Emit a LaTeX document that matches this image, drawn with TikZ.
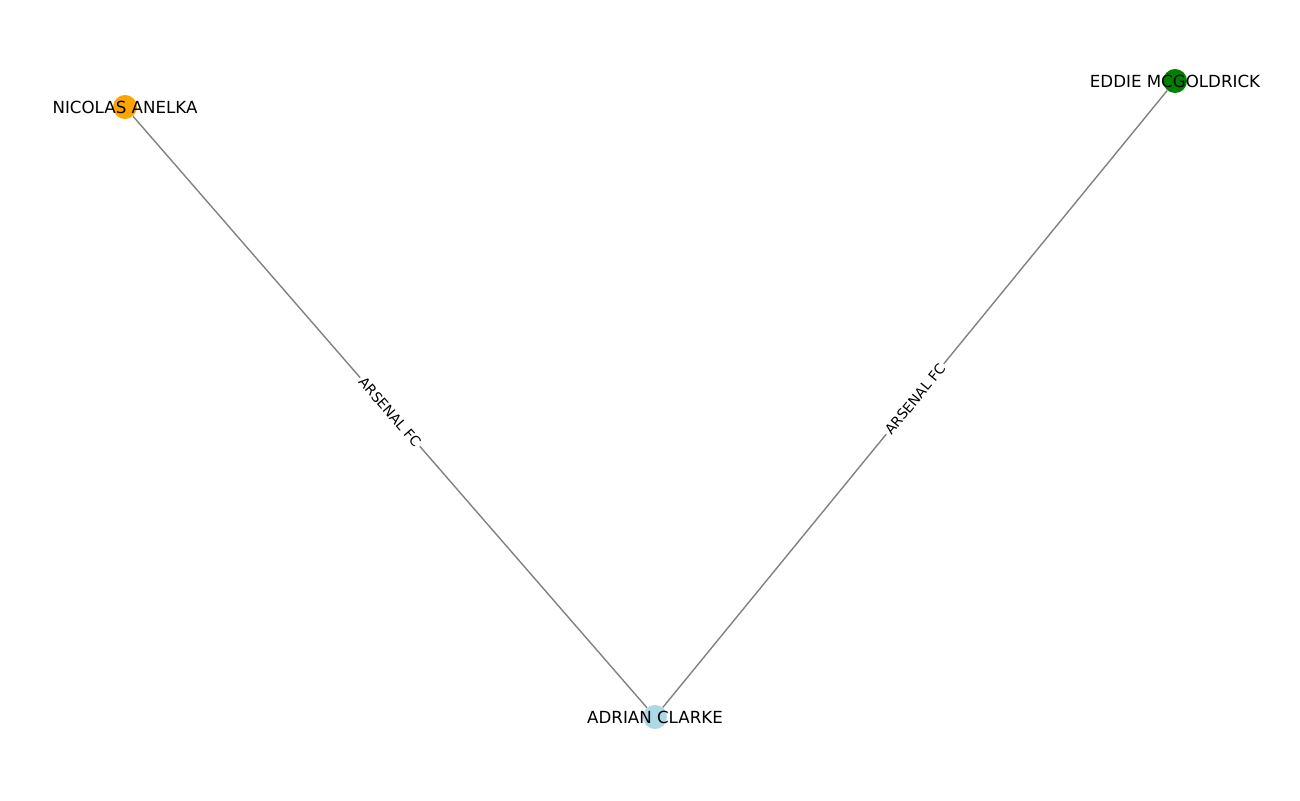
\documentclass[tikz,border=0pt]{standalone}
\usepackage{fontspec}
\setmainfont{DejaVu Sans}
\usepackage{tikz}
\usetikzlibrary{calc}
\usetikzlibrary{positioning}

\definecolor{nxorange}{HTML}{FFA500}
\definecolor{nxgreen}{HTML}{008000}
\definecolor{nxlightblue}{HTML}{ADD8E6}
\definecolor{nxgray}{HTML}{808080}

\tikzset{
  player/.style={circle, fill=#1, draw=none, minimum size=17.3pt, inner sep=0pt},
  playername/.style={font=\fontsize{12}{14}\selectfont, inner sep=0pt},
  clublabel/.style={font=\fontsize{10}{12}\selectfont, fill=white, inner sep=1.5pt, sloped, midway},
  link/.style={draw=nxgray, line width=1pt}
}

\begin{document}
\begin{tikzpicture}[x=0.72pt, y=0.72pt]
            \useasboundingbox (0,0) rectangle (1300,800);

            \node [player=nxorange] (A1) at (125,693) {};
            \node [player=nxgreen] (A2) at (1175,719) {};
            \node [player=nxlightblue] (B1) at (655,83) {};

            \draw [link] (A1) -- node [clublabel] {ARSENAL FC} (B1);
            \draw [link] (B1) -- node [clublabel] {ARSENAL FC} (A2);

            \node [playername] (L1) at (A1) {NICOLAS ANELKA};
            \node [playername] (L2) at (A2) {EDDIE MCGOLDRICK};
            \node [playername] (L3) at (B1) {ADRIAN CLARKE};
        \end{tikzpicture}
\end{document}
